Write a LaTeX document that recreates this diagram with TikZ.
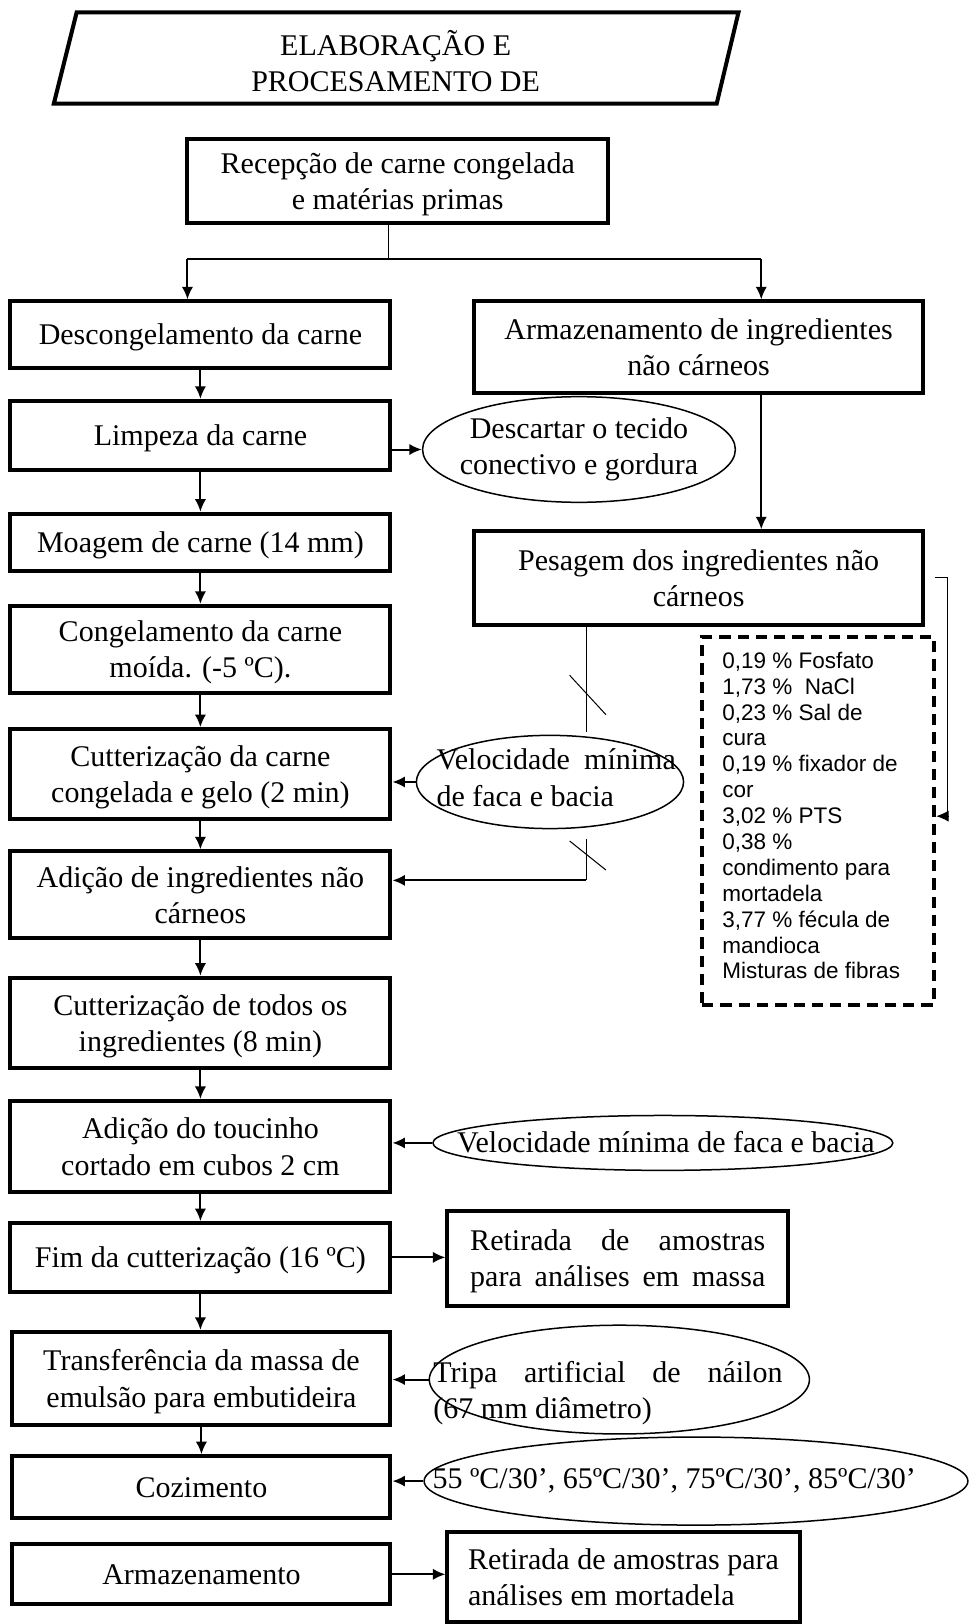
\documentclass[tikz,border=0pt]{standalone}
\usepackage{fontspec}
\setmainfont{Liberation Serif}
\newfontfamily\arialfont{Liberation Sans}
\usetikzlibrary{arrows.meta,shapes.geometric}

\tikzset{
  etapa/.style={draw, line width=1.6pt, align=center, inner sep=2pt, text depth=0pt},
  nota/.style={draw, ellipse, line width=0.6pt, inner sep=0pt},
  texto/.style={inner sep=0pt, align=left},
  tamanho/.style 2 args={minimum width=#1*0.4141pt, minimum height=#2*0.4141pt},
  seta/.style={->, line width=0.8pt},
  fino/.style={line width=0.4pt},
  tracejado/.style={draw, line width=1.6pt, dash pattern=on 4.5pt off 2.8pt}
}

\begin{document}
\begin{tikzpicture}[x=0.4141pt, y=-0.4141pt, >={Latex[length=5pt,width=4.5pt]},
    every node/.style={font=\fontsize{12}{14.5}\selectfont}]
    \useasboundingbox (0,0) rectangle (936,1568);

    % titulo
    \draw[line width=1.6pt] (74,12) -- (713,12) -- (692,100) -- (52,100) -- cycle;
    \node[texto, align=center] (titulo) at (382,59) {ELABORAÇÃO E\\PROCESAMENTO DE};

    % etapas
    \node[etapa, tamanho={406}{81}] (recep) at (384,174.5) {Recepção de carne congelada\\e matérias primas};
    \node[etapa, tamanho={367}{64}] (desc) at (193.5,323) {Descongelamento da carne};
    \node[etapa, tamanho={433}{88}] (armz) at (674.5,335) {Armazenamento de ingredientes\\não cárneos};
    \node[etapa, tamanho={367}{67}] (limp) at (193.5,420.5) {Limpeza da carne};
    \node[etapa, tamanho={367}{55}] (moag) at (193.5,523.5) {Moagem de carne (14 mm)};
    \node[etapa, tamanho={433}{90}] (pesa) at (674.5,558) {Pesagem dos ingredientes não\\cárneos};
    \node[etapa, tamanho={367}{84}] (cong) at (193.5,627) {Congelamento da carne\\moída. (-5 ºC).};
    \node[etapa, tamanho={367}{87}] (cutt) at (193.5,747.5) {Cutterização da carne\\congelada e gelo (2 min)};
    \node[etapa, tamanho={367}{84}] (adic) at (193.5,864) {Adição de ingredientes não\\cárneos};
    \node[etapa, tamanho={367}{87}] (todos) at (193.5,987.5) {Cutterização de todos os\\ingredientes (8 min)};
    \node[etapa, tamanho={367}{88}] (touc) at (193.5,1107) {Adição do toucinho\\cortado em cubos 2 cm};
    \node[etapa, tamanho={367}{66}] (fim) at (193.5,1214) {Fim da cutterização (16 ºC)};
    \node[etapa, tamanho={365}{90}] (transf) at (194.5,1331) {Transferência da massa de\\emulsão para embutideira};
    \node[etapa, tamanho={365}{60}] (coz) at (194.5,1436) {Cozimento};
    \node[etapa, tamanho={365}{58}] (armf) at (194.5,1520) {Armazenamento};
    \node[etapa, tamanho={329}{92}] (retm) at (596.5,1215) {\makebox[118pt][s]{Retirada de amostras}\\\makebox[118pt][s]{para análises em massa}};
    \node[etapa, tamanho={340}{87}, align=left] (retf) at (602,1522.5) {Retirada de amostras para\\análises em mortadela};

    % ingredientes
    \node[tracejado, tamanho={224}{355}] (ingr) at (790,792.5) {};
    \node[texto, anchor=north west, font=\arialfont\fontsize{9}{10.35}\selectfont] (ingrT) at (697,629)
          {0,19 \% Fosfato\\1,73 \%\ \ NaCl\\0,23 \% Sal de\\cura\\0,19 \% fixador de\\cor\\3,02 \% PTS\\0,38 \%\\condimento para\\mortadela\\3,77 \% fécula de\\mandioca\\Misturas de fibras};

    % observacoes
    \node[nota, tamanho={302}{102}] (desct) at (559,434) {};
    \node[texto, align=center] (desctT) at (desct) {Descartar o tecido\\conectivo e gordura};
    \node[nota, tamanho={258}{90}] (vel) at (531,755) {};
    \node[texto] (velT) at (537,751) {\makebox[95.7pt][s]{Velocidade mínima}\\de faca e bacia};
    \node[nota, tamanho={444}{53}] (vel2) at (640,1103.5) {};
    \node[texto] (vel2T) at (643,1103) {Velocidade mínima de faca e bacia};
    \node[nota, tamanho={367}{105}] (tripa) at (598,1332) {};
    \node[texto] (tripaT) at (587,1345) {\makebox[139.6pt][s]{Tripa artificial de náilon}\\(67 mm diâmetro)};
    \node[nota, tamanho={525}{85}] (cozt) at (672,1430) {};
    \node[texto] (coztT) at (651,1430) {55 ºC/30’, 65ºC/30’, 75ºC/30’, 85ºC/30’};

    % ramificacao
    \coordinate (tronco) at (375,250);
    \coordinate (ramoE) at (181,250);
    \coordinate (ramoD) at (735,250);
    \draw[fino] (tronco |- recep.south) -- (tronco);
    \draw[line width=0.8pt] (ramoE) -- (ramoD);
    \draw[seta] (ramoE) -- (ramoE |- desc.north);
    \draw[seta] (ramoD) -- (ramoD |- armz.north);
    \draw[seta] (ramoD |- armz.south) -- (ramoD |- pesa.north);

    \foreach \a/\b in {desc/limp, limp/moag, moag/cong, cong/cutt, cutt/adic, adic/todos, todos/touc, touc/fim, fim/transf, transf/coz}
        \draw[seta] (\a.south) -- (\a.south |- \b.north);

    \draw[seta] (limp.east |- desct) -- (desct.west);
    \draw[seta] (vel.west) -- (vel.west -| cutt.east);
    \draw[seta] (vel2.west) -- (vel2.west -| touc.east);
    \draw[seta] (fim.east) -- (fim.east -| retm.west);
    \draw[seta] (tripa.west) -- (tripa.west -| transf.east);
    \draw[seta] (cozt.west) -- (cozt.west -| coz.east);
    \draw[seta] (armf.east) -- (armf.east -| retf.west);

    % pesagem -> adicao, por tras da elipse
    \coordinate (quebraA) at (566,707);
    \coordinate (quebraB) at (566,810);
    \coordinate (desvio) at (566,850);
    \draw[fino] (quebraA |- pesa.south) -- (quebraA);
    \draw[fino] (quebraB) -- (desvio);
    \draw[seta] (desvio) -- (desvio -| adic.east);
    \draw[fino] (550,652) -- (585,690);
    \draw[fino] (550,812) -- (585,840);

    % pesagem -> ingredientes
    \coordinate (dobra) at (915,788);
    \draw[fino, ->] ([xshift=4pt]pesa.east) -| (dobra) -- (dobra -| ingr.east);
\end{tikzpicture}
\end{document}
